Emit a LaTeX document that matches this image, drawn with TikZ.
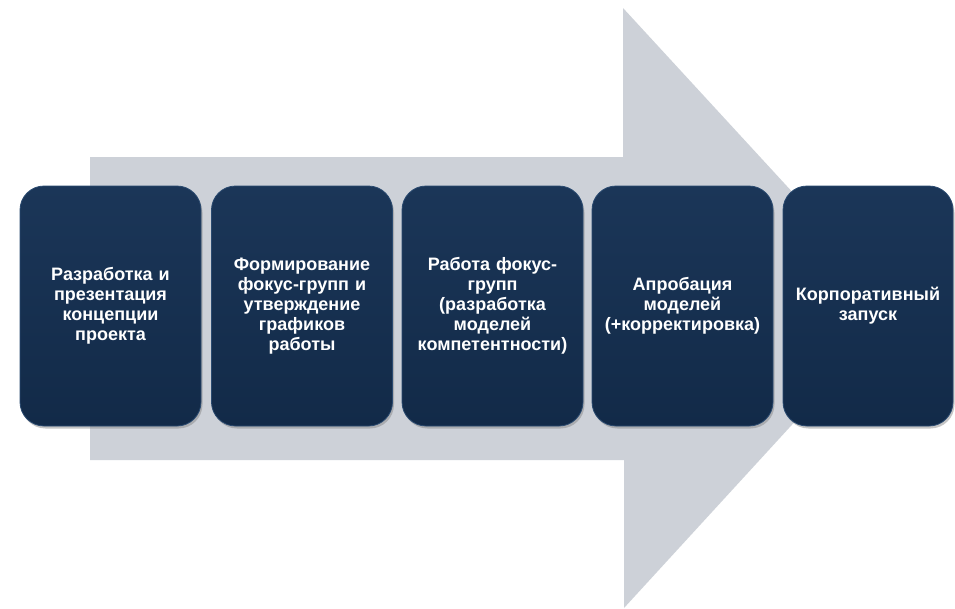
\documentclass[tikz,border=0pt]{standalone}
\usepackage{fontspec}
\setmainfont{Liberation Sans}
\usetikzlibrary{shadows}
\definecolor{arrowgray}{HTML}{CDD1D8}
\definecolor{navytop}{HTML}{1B3658}
\definecolor{navybot}{HTML}{122A48}
\definecolor{navyedge}{HTML}{2A4A70}
\tikzset{
  stepbox/.style={rounded corners=24pt, minimum width=181pt, minimum height=240pt,
    text width=176pt, align=center, inner sep=0pt,
    top color=navytop, bottom color=navybot, draw=navyedge, line width=0.8pt,
    drop shadow={shadow xshift=1.5pt, shadow yshift=-2.5pt, opacity=0.45},
    text=white, font=\bfseries\fontsize{18}{20}\selectfont},
}
\begin{document}
\begin{tikzpicture}[x=1pt,y=-1pt]
\useasboundingbox (0,0) rectangle (955,608);
\fill[white] (0,0) rectangle (955,608);
% big arrow
\fill[arrowgray] (90,157) -- (623,157) -- (623,8) -- (899,308) -- (624,608) -- (624,460) -- (90,460) -- cycle;
% boxes
\node[stepbox] (b1) at (110.5,306) {Разработка и\\презентация\\концепции\\проекта};
\node[stepbox] (b2) at (302,306) {Формирование\\фокус-групп и\\утверждение\\графиков\\работы};
\node[stepbox] (b3) at (492.5,306) {Работа фокус-\\групп\\(разработка\\моделей\\компетентности)};
\node[stepbox] (b4) at (682.5,306) {Апробация\\моделей\\(+корректировка)};
\node[stepbox, minimum width=170pt, text width=168pt] (b5) at (868,306) {Корпоративный\\запуск};
\end{tikzpicture}
\end{document}
